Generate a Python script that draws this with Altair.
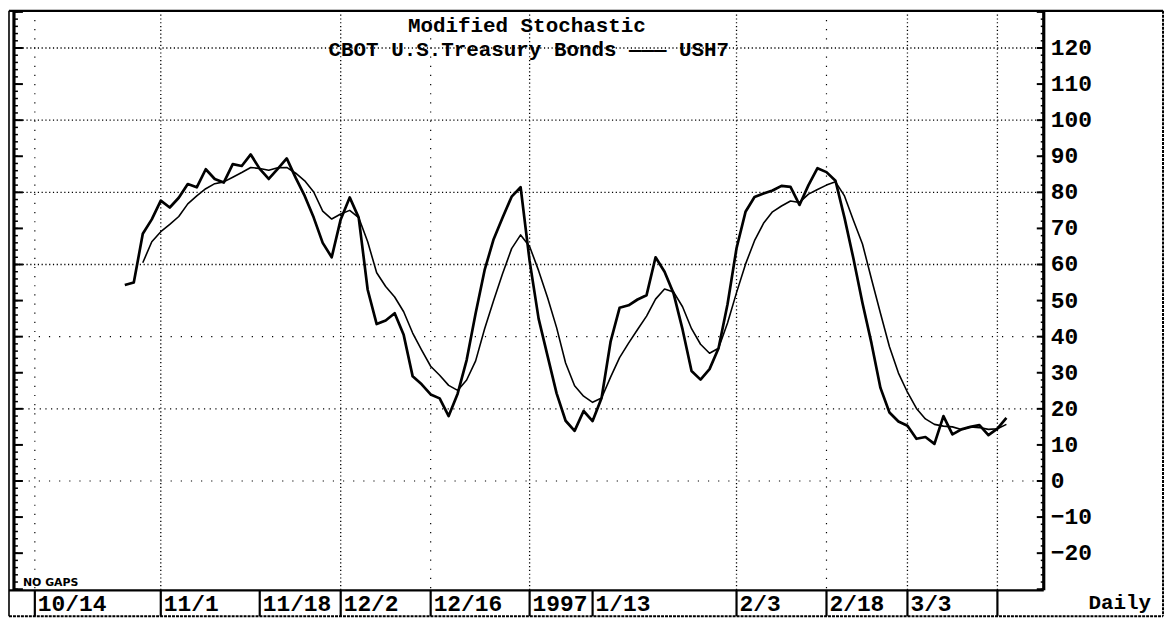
import altair as alt
import pandas as pd

# ---------------- data ----------------
# trading-day index 0 = 10/14/1996
k_start = 10
k_values = [54.3, 55.0, 68.5, 72.5, 77.7, 75.8, 78.5, 82.3, 81.4, 86.4,
            83.7, 82.7, 87.8, 87.3, 90.5, 86.5, 83.7, 86.5, 89.4, 84.0,
            79.0, 73.0, 66.0, 62.0, 72.5, 78.6, 73.0, 53.0, 43.5, 44.5,
            46.5, 40.5, 29.0, 26.8, 24.0, 22.9, 18.0, 24.2, 33.5, 46.5,
            58.5, 67.0, 73.0, 78.8, 81.4, 61.0, 45.0, 34.6, 24.3, 16.7,
            13.9, 19.4, 16.6, 23.0, 38.6, 48.0, 48.7, 50.3, 51.5, 62.0,
            58.0, 52.0, 42.0, 30.5, 28.1, 31.0, 36.8, 49.0, 64.5, 74.6,
            78.7, 79.7, 80.5, 81.8, 81.5, 76.5, 82.0, 86.7, 85.6, 83.2,
            73.0, 61.6, 49.3, 38.2, 25.8, 19.0, 16.5, 15.3, 11.7, 12.2,
            10.3, 18.0, 12.9, 14.3, 15.0, 15.5, 12.7, 14.5, 17.5]
d_start = 12
d_values = [60.5, 66.3, 69.1, 71.1, 73.3, 76.8, 79.0, 81.0, 82.4, 82.9,
            84.2, 85.5, 86.9, 86.6, 86.1, 86.8, 86.9, 85.3, 83.2, 80.1,
            74.8, 72.6, 74.0, 75.0, 73.0, 66.3, 57.7, 53.9, 51.0, 46.9,
            41.0, 36.3, 31.8, 29.3, 26.5, 25.1, 28.0, 33.3, 42.2, 50.0,
            57.5, 64.4, 68.2, 65.0, 58.3, 50.8, 42.5, 32.7, 26.4, 23.5,
            21.8, 23.0, 28.8, 34.2, 38.2, 42.0, 45.7, 50.4, 53.2, 52.4,
            48.3, 42.2, 37.9, 35.4, 36.8, 43.8, 52.2, 60.1, 66.6, 71.4,
            74.6, 76.2, 77.6, 77.2, 79.5, 80.8, 82.0, 82.9, 79.0, 72.2,
            65.7, 56.0, 46.5, 37.2, 29.9, 24.6, 20.1, 17.2, 15.7, 15.2,
            15.0, 14.3, 15.0, 14.8, 14.3, 14.5, 15.7]

tick_days = [0, 14, 25, 34, 44, 55, 62, 78, 88, 97, 107]
tick_labels = ["10/14", "11/1", "11/18", "12/2", "12/16", "1997", "1/13",
               "2/3", "2/18", "3/3", ""]

y_label_values = [-20, -10, 0, 10, 20, 30, 40, 50, 60, 70, 80, 90, 100, 110, 120]
y_label_text = ["\u221220", "\u221210", "0", "10", "20", "30", "40", "50", "60",
                "70", "80", "90", "100", "110", "120"]
y_major_ticks = [-30, -20, -10, 0, 10, 20, 30, 40, 50, 60, 70, 80, 90, 100, 110, 120, 130]
y_minor_ticks = [v for v in range(-30, 131, 2)]

hgrid_dense = [60, 80, 100, 120]
hgrid_mid = [20]
hgrid_sparse = [0, 40]
vgrid_dense = [14, 34, 55, 78, 97, 107]
vgrid_sparse = [0, 44, 88]

title1 = "Modified Stochastic"
title2 = "CBOT U.S.Treasury Bonds \u2014\u2014\u2014 USH7"

# ---------------- tables ----------------
kdf = pd.DataFrame({"day": list(range(k_start, k_start + len(k_values))), "v": k_values})
ddf = pd.DataFrame({"day": list(range(d_start, d_start + len(d_values))), "v": d_values})
tdf = pd.DataFrame({"day": tick_days, "label": tick_labels})
ylab = pd.DataFrame({"v": y_label_values, "label": y_label_text})
ymaj = pd.DataFrame({"v": y_major_ticks})
ymin = pd.DataFrame({"v": y_minor_ticks})
one = pd.DataFrame({"k": [0]})

W, H = 1036, 583
XS = alt.Scale(domain=[-2.32, 112.15], nice=False, zero=False)
YS = alt.Scale(domain=[-30.3, 130.3], nice=False, zero=False)
FONT = "Liberation Mono"


def X(f):
    return alt.X(f, type="quantitative", scale=XS, axis=None)


def Y(f):
    return alt.Y(f, type="quantitative", scale=YS, axis=None)


def hline(x, x2, y, w, dash=None):
    kw = dict(color="black", strokeWidth=w)
    if dash:
        kw["strokeDash"] = dash
    return alt.Chart(one).mark_rule(**kw).encode(
        x=alt.value(x), x2=alt.value(x2), y=alt.value(y))


def vline(x, y, y2, w, dash=None):
    kw = dict(color="black", strokeWidth=w)
    if dash:
        kw["strokeDash"] = dash
    return alt.Chart(one).mark_rule(**kw).encode(
        x=alt.value(x), y=alt.value(y), y2=alt.value(y2))


layers = []

# grid
layers.append(alt.Chart(pd.DataFrame({"v": hgrid_dense})).mark_rule(
    color="black", strokeWidth=1.3, strokeDash=[1.2, 2.6]).encode(y=Y("v")))
layers.append(alt.Chart(pd.DataFrame({"v": hgrid_mid})).mark_rule(
    color="black", strokeWidth=1.2, strokeDash=[1.2, 4.5]).encode(y=Y("v")))
layers.append(alt.Chart(pd.DataFrame({"v": hgrid_sparse})).mark_rule(
    color="black", strokeWidth=1.2, strokeDash=[1.2, 9]).encode(y=Y("v")))
layers.append(alt.Chart(pd.DataFrame({"day": vgrid_dense})).mark_rule(
    color="black", strokeWidth=1.3, strokeDash=[1.2, 2.6]).encode(x=X("day")))
layers.append(alt.Chart(pd.DataFrame({"day": vgrid_sparse})).mark_rule(
    color="black", strokeWidth=1.2, strokeDash=[1.2, 8]).encode(x=X("day")))

# series
layers.append(alt.Chart(ddf).mark_line(color="black", strokeWidth=1.6, strokeJoin="round")
              .encode(x=X("day"), y=Y("v")))
layers.append(alt.Chart(kdf).mark_line(color="black", strokeWidth=2.7, strokeJoin="round")
              .encode(x=X("day"), y=Y("v")))

# frame
layers.append(hline(-5, W + 120, 0, 2.2))            # top
layers.append(vline(0, 0, H, 3.2))                   # left axis
layers.append(vline(W, 0, H, 3.2))                   # right axis
layers.append(hline(-5, W, H, 2.4))                  # plot bottom / strip top
layers.append(hline(-5, W + 120, H + 26, 2.0, [3, 1]))  # strip bottom
layers.append(vline(-5, 0, H + 26, 1.6))             # outer left
layers.append(vline(W + 120, 0, H + 26, 2.0, [3, 1]))  # outer right

# axis ticks
layers.append(alt.Chart(ymaj).mark_rule(color="black", strokeWidth=2).encode(
    y=Y("v"), x=alt.value(W - 7), x2=alt.value(W)))
layers.append(alt.Chart(ymin).mark_rule(color="black", strokeWidth=1.5).encode(
    y=Y("v"), x=alt.value(W - 3), x2=alt.value(W)))
layers.append(alt.Chart(ymaj).mark_rule(color="black", strokeWidth=2).encode(
    y=Y("v"), x=alt.value(0), x2=alt.value(9)))
layers.append(alt.Chart(ymin).mark_rule(color="black", strokeWidth=1.5).encode(
    y=Y("v"), x=alt.value(0), x2=alt.value(4)))

# y labels
layers.append(alt.Chart(ylab).mark_text(
    align="left", baseline="middle", font=FONT, fontSize=23, fontWeight="bold",
    color="black").encode(x=alt.value(W + 7), y=Y("v"), text="label:N"))

# date strip
layers.append(alt.Chart(tdf).mark_rule(color="black", strokeWidth=2.2).encode(
    x=X("day"), y=alt.value(H), y2=alt.value(H + 26)))
layers.append(alt.Chart(tdf).mark_text(
    align="left", baseline="alphabetic", dx=3, font=FONT, fontSize=23,
    fontWeight="bold", color="black").encode(
    x=X("day"), y=alt.value(H + 21), text="label:N"))
layers.append(alt.Chart(one).mark_text(
    align="right", baseline="alphabetic", font=FONT, fontSize=21,
    fontWeight="bold", color="black").encode(
    x=alt.value(W + 108), y=alt.value(H + 19), text=alt.value("Daily")))
layers.append(alt.Chart(one).mark_text(
    align="left", baseline="alphabetic", font="DejaVu Sans", fontSize=11,
    fontWeight="bold", color="black").encode(
    x=alt.value(9), y=alt.value(H - 4), text=alt.value("NO  GAPS")))

# titles
layers.append(alt.Chart(one).mark_text(
    align="center", baseline="alphabetic", font=FONT, fontSize=21,
    fontWeight="bold", color="black").encode(
    x=alt.value(516), y=alt.value(21), text=alt.value(title1)))
layers.append(alt.Chart(one).mark_text(
    align="center", baseline="alphabetic", font=FONT, fontSize=21,
    fontWeight="bold", color="black").encode(
    x=alt.value(518), y=alt.value(45), text=alt.value(title2)))

chart = alt.layer(*layers).properties(
    width=W, height=H,
    autosize=alt.AutoSizeParams(type="none"),
    padding={"left": 6, "top": 1, "right": 123, "bottom": 28},
    background="white",
).configure_view(stroke=None)

chart.save("out.html", embed_options={"renderer": "svg", "actions": False})
